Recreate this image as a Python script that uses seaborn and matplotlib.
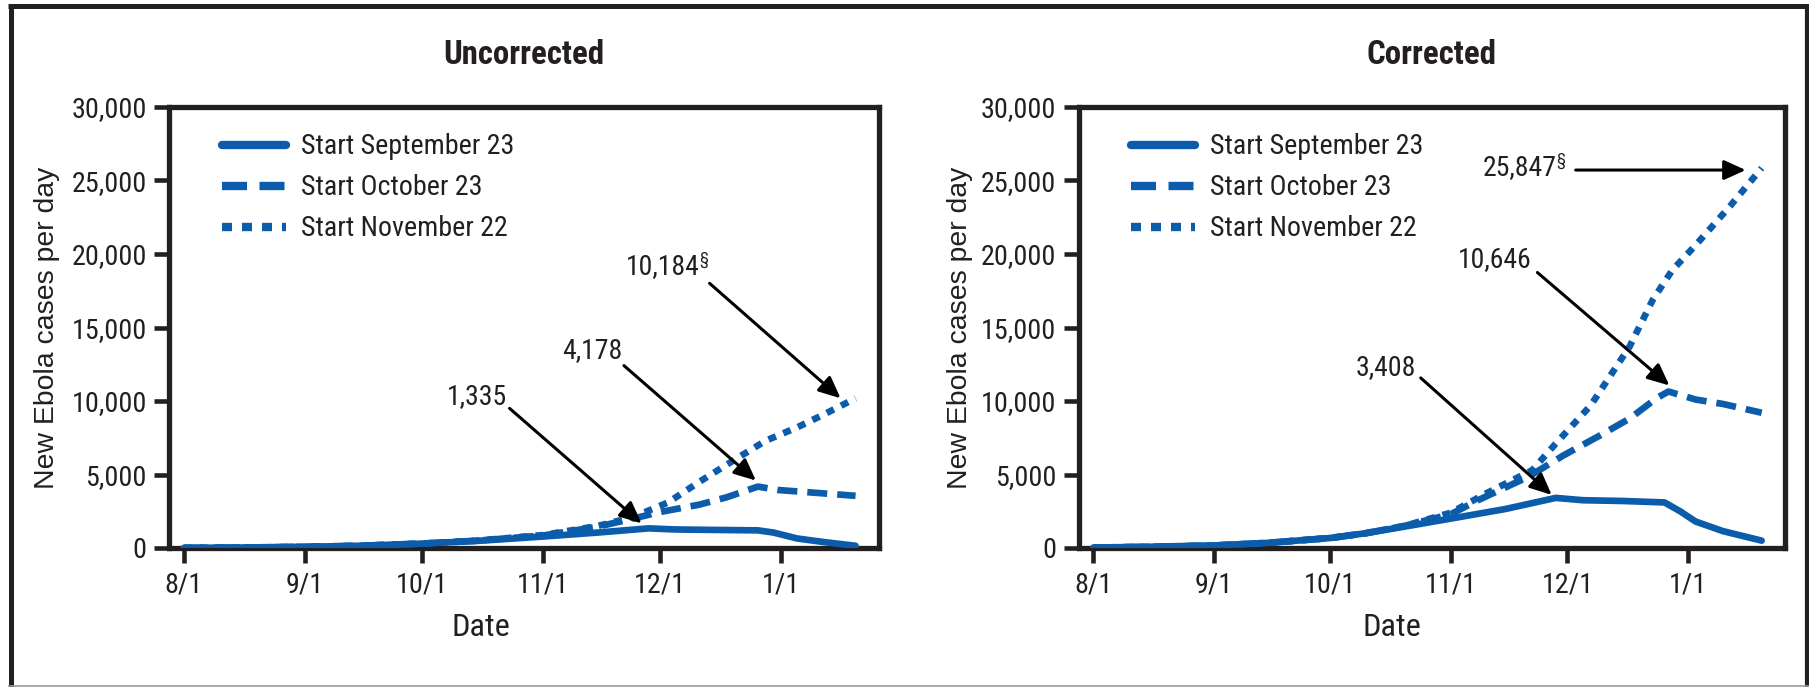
import numpy as np
import pandas as pd
import matplotlib
matplotlib.use("Agg")
import matplotlib.pyplot as plt
import seaborn as sns
from matplotlib.lines import Line2D
from matplotlib import font_manager as fm
from matplotlib.textpath import TextPath
from matplotlib.font_manager import FontProperties
from matplotlib.transforms import offset_copy

# ---------------- data ----------------
panel_titles = ["Uncorrected", "Corrected"]
series_labels = ["Start September 23", "Start October 23", "Start November 22"]

unc_sep_dates = ["2014-08-01", "2014-08-15", "2014-09-01", "2014-09-15", "2014-10-01", "2014-10-15",
                 "2014-11-01", "2014-11-15", "2014-11-28", "2014-12-05", "2014-12-15", "2014-12-26",
                 "2014-12-30", "2015-01-05", "2015-01-12", "2015-01-20"]
unc_sep_vals = [10, 30, 80, 150, 300, 480, 780, 1050, 1335, 1260, 1230, 1200, 1050, 650, 400, 150]

unc_oct_dates = ["2014-08-01", "2014-08-15", "2014-09-01", "2014-09-15", "2014-10-01", "2014-10-15",
                 "2014-11-01", "2014-11-15", "2014-11-24", "2014-12-01", "2014-12-11", "2014-12-18",
                 "2014-12-26", "2014-12-31", "2015-01-10", "2015-01-20"]
unc_oct_vals = [10, 30, 80, 150, 300, 500, 850, 1450, 2000, 2450, 2950, 3450, 4178, 3950, 3750, 3550]

unc_nov_dates = ["2014-08-01", "2014-08-15", "2014-09-01", "2014-09-15", "2014-10-01", "2014-10-15",
                 "2014-11-01", "2014-11-15", "2014-11-24", "2014-12-03", "2014-12-11", "2014-12-20",
                 "2014-12-28", "2015-01-05", "2015-01-12", "2015-01-20"]
unc_nov_vals = [10, 30, 80, 150, 300, 500, 880, 1500, 2100, 3100, 4500, 6000, 7300, 8200, 9100, 10184]

cor_sep_dates = ["2014-08-01", "2014-08-15", "2014-09-01", "2014-09-15", "2014-10-01", "2014-10-10",
                 "2014-10-20", "2014-11-01", "2014-11-15", "2014-11-28", "2014-12-05", "2014-12-15",
                 "2014-12-26", "2014-12-30", "2015-01-03", "2015-01-10", "2015-01-20"]
cor_sep_vals = [30, 80, 170, 350, 680, 1000, 1450, 2000, 2650, 3408, 3250, 3200, 3100, 2500, 1800, 1150, 500]

cor_oct_dates = ["2014-08-01", "2014-08-15", "2014-09-01", "2014-09-15", "2014-10-01", "2014-10-10",
                 "2014-10-20", "2014-11-01", "2014-11-08", "2014-11-21", "2014-11-30", "2014-12-09",
                 "2014-12-17", "2014-12-24", "2014-12-27", "2015-01-03", "2015-01-10", "2015-01-20"]
cor_oct_vals = [30, 80, 170, 350, 680, 1000, 1500, 2300, 3250, 4850, 6300, 7600, 8800, 10200, 10646,
                10100, 9800, 9200]

cor_nov_dates = ["2014-08-01", "2014-08-15", "2014-09-01", "2014-09-15", "2014-10-01", "2014-10-10",
                 "2014-10-20", "2014-11-01", "2014-11-10", "2014-11-22", "2014-11-28", "2014-12-07",
                 "2014-12-17", "2014-12-23", "2014-12-28", "2015-01-03", "2015-01-12", "2015-01-20"]
cor_nov_vals = [30, 80, 170, 350, 680, 1000, 1500, 2400, 3700, 5300, 7100, 9700, 13700, 16900, 18900,
                20600, 23300, 25847]

x_tick_dates = ["2014-08-01", "2014-09-01", "2014-10-01", "2014-11-01", "2014-12-01", "2015-01-01"]
x_tick_labels = ["8/1", "9/1", "10/1", "11/1", "12/1", "1/1"]
y_ticks = [0, 5000, 10000, 15000, 20000, 25000, 30000]
y_tick_labels = ["0", "5,000", "10,000", "15,000", "20,000", "25,000", "30,000"]

# annotation labels: (series index, label, superscript)
unc_annot = [(0, "1,335", ""), (1, "4,178", ""), (2, "10,184", "§")]
cor_annot = [(0, "3,408", ""), (1, "10,646", ""), (2, "25,847", "§")]
# placement in pixels relative to the annotated point (y up):
# tip offset, arrow start offset, text (right, baseline) offset from arrow start
unc_place = [((-7, 5), (-139, 120), (-3, 4)),
             ((-2, 6), (-134, 121), (-1, 8)),
             ((-15, 0), (-146, 115), (-1, 9))]
cor_place = [((-4, 3), (-135, 120), (-5, 3)),
             ((1, 6), (-131, 119), (-6, 5)),
             ((-16, -2), (-186, -2), (-10, -5))]

# ---------------- style ----------------
sns.set_theme(style="white")

names = {f.name for f in fm.fontManager.ttflist}
cond = None
for cand in ["Liberation Sans Narrow", "Roboto Condensed", "Open Sans Condensed",
             "Noto Sans Condensed", "DejaVu Sans Condensed", "Lato Condensed"]:
    if cand in names:
        cond = (cand, "normal")
        break
if cond is None:
    for f in fm.fontManager.ttflist:
        if f.name == "DejaVu Sans" and f.stretch in ("condensed", "semi-condensed", 600, 500) \
                and f.style == "normal":
            cond = ("DejaVu Sans", "condensed")
            break
if cond is None:
    cond = ("Liberation Sans", "normal")
FAM = [cond[0], "DejaVu Sans"]
STRETCH = cond[1]
WIDE = ["Liberation Sans", "DejaVu Sans"]

plt.rcParams["font.family"] = FAM
plt.rcParams["font.stretch"] = STRETCH

W, H, DPI = 1809, 687, 100
PX2PT = 72.0 / DPI


def fit_size(text, target_px, family, weight="normal", stretch="normal"):
    fp = FontProperties(family=family, weight=weight, stretch=stretch, size=100)
    ext = TextPath((0, 0), text, prop=fp).get_extents()
    return 100 * (target_px * PX2PT) / ext.width


FS_TICK = fit_size("30,000", 72, FAM, stretch=STRETCH)
FS_LEG = fit_size("Start September 23", 210, FAM, stretch=STRETCH)
FS_TITLE = fit_size("Uncorrected", 158, FAM, weight="bold", stretch=STRETCH)
FS_DATE = fit_size("Date", 55, FAM, stretch=STRETCH)
FS_ANN = fit_size("1,335", 57, FAM, stretch=STRETCH)
FS_YLAB = fit_size("New Ebola cases per day", 320, WIDE)

INK = "#231f20"
BLUE = "#0b5cab"
LW = 4.8
styles = ["-", (0, (3.0, 1.5)), (0, (1.2, 1.2))]

fig = plt.figure(figsize=(W / DPI, H / DPI), dpi=DPI)
fig.patch.set_facecolor("white")

axes_px = [(169, 879), (1078.5, 1785)]
top_px, bot_px = 107, 548

panels = [
    [(unc_sep_dates, unc_sep_vals), (unc_oct_dates, unc_oct_vals), (unc_nov_dates, unc_nov_vals)],
    [(cor_sep_dates, cor_sep_vals), (cor_oct_dates, cor_oct_vals), (cor_nov_dates, cor_nov_vals)],
]
annots = [unc_annot, cor_annot]
places = [unc_place, cor_place]
ylabel_x = [-0.1535, -0.149]
xlabel_x = [0.439, 0.444]

x0 = pd.Timestamp("2014-08-01")


def off(ax, dx_px, dy_px):
    return offset_copy(ax.transData, fig=fig, x=dx_px * PX2PT, y=dy_px * PX2PT, units="points")


for p in range(2):
    l, r = axes_px[p]
    ax = fig.add_axes([l / W, 1 - bot_px / H, (r - l) / W, (bot_px - top_px) / H])
    handles = []
    for i, (d, v) in enumerate(panels[p]):
        df = pd.DataFrame({"date": pd.to_datetime(d), "cases": v})
        sns.lineplot(data=df, x="date", y="cases", ax=ax, color=BLUE, lw=LW,
                     linestyle=styles[i], legend=False, zorder=3)
        handles.append(Line2D([0], [0], color=BLUE, lw=LW + 1.2, linestyle=styles[i]))

    ax.set_xlim(x0 - pd.Timedelta(days=3.8), x0 + pd.Timedelta(days=178))
    ax.set_ylim(0, 30000)
    ax.set_xticks(pd.to_datetime(x_tick_dates))
    ax.set_xticklabels(x_tick_labels)
    ax.set_yticks(y_ticks)
    ax.set_yticklabels(y_tick_labels)
    ax.tick_params(axis="both", which="major", direction="out", length=11, width=3.3,
                   color=INK, labelcolor=INK, labelsize=FS_TICK, bottom=True, left=True)
    ax.tick_params(axis="x", pad=6)
    ax.tick_params(axis="y", pad=5)
    for s in ax.spines.values():
        s.set_visible(True)
        s.set_linewidth(3.8)
        s.set_color(INK)

    ax.set_title(panel_titles[p], fontsize=FS_TITLE, fontweight="bold", color=INK, pad=31)
    ax.set_ylabel("New Ebola cases per day", fontsize=FS_YLAB, color=INK, family=WIDE,
                  fontstretch="normal")
    ax.yaxis.set_label_coords(ylabel_x[p], 0.5)
    ax.set_xlabel("Date", fontsize=FS_DATE, color=INK)
    ax.xaxis.set_label_coords(xlabel_x[p], -0.147)
    ax.xaxis.label.set_va("top")

    leg = ax.legend(handles, series_labels, loc="upper left",
                    bbox_to_anchor=(0.0746, 0.94), frameon=False, fontsize=FS_LEG,
                    handlelength=64 * PX2PT / FS_LEG, handletextpad=15 * PX2PT / FS_LEG,
                    labelspacing=0.5, borderpad=0, borderaxespad=0)
    for t in leg.get_texts():
        t.set_color(INK)

    # annotations
    for (si, label, sup), (tip, start, toff) in zip(annots[p], places[p]):
        d, v = panels[p][si]
        k = int(np.argmax(v))
        xy = (mdates_x := matplotlib.dates.date2num(pd.to_datetime(d[k])), v[k])
        ax.annotate("", xy=xy, xycoords=off(ax, *tip),
                    xytext=xy, textcoords=off(ax, *start),
                    arrowprops=dict(arrowstyle="-|>,head_length=1.1,head_width=0.5",
                                    color="black", lw=2.2, shrinkA=0, shrinkB=0),
                    zorder=5, annotation_clip=False)
        tx, ty = start[0] + toff[0], start[1] + toff[1]
        sup_w = 0
        if sup:
            sup_w = 9
            ax.text(*xy, sup, transform=off(ax, tx, ty + 10), ha="right", va="baseline",
                    fontsize=FS_ANN * 0.6, color=INK, zorder=5)
        ax.text(*xy, label, transform=off(ax, tx - sup_w, ty), ha="right", va="baseline",
                fontsize=FS_ANN, color=INK, zorder=5)

# figure border
fig.add_artist(Line2D([10.5 / W, 10.5 / W], [0, 1 - 4 / H], transform=fig.transFigure,
                      color=INK, lw=3.6, solid_capstyle="butt"))
fig.add_artist(Line2D([8 / W, 1], [1 - 6 / H, 1 - 6 / H], transform=fig.transFigure,
                      color=INK, lw=3.6, solid_capstyle="butt"))
fig.add_artist(Line2D([1807 / W, 1807 / W], [0, 1 - 4 / H], transform=fig.transFigure,
                      color=INK, lw=3.0, solid_capstyle="butt"))
fig.add_artist(Line2D([8 / W, 1], [0.8 / H, 0.8 / H], transform=fig.transFigure,
                      color="#999999", lw=1.2, solid_capstyle="butt"))

fig.savefig("out.png", dpi=DPI, facecolor="white")
